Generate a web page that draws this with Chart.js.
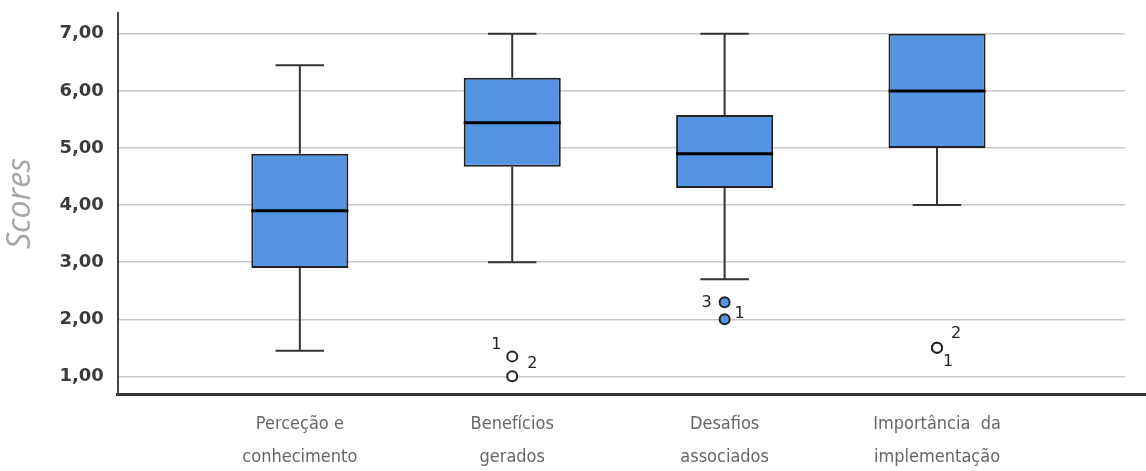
<!DOCTYPE html>
<html>
<head>
<meta charset="utf-8">
<script src="https://cdn.jsdelivr.net/npm/chart.js@4.4.1/dist/chart.umd.min.js"></script>
<style>
  html, body { margin: 0; padding: 0; background: #fff; overflow: hidden; }
  #wrap { width: 1146px; height: 499px; margin-top: -12px; position: relative; }
</style>
</head>
<body>
<div id="wrap"><canvas id="boxChart"></canvas></div>
<script>
// categories (two-line labels as in the original)
const categories = [
  ['Perceção e', 'conhecimento'],
  ['Benefícios', 'gerados'],
  ['Desafios', 'associados'],
  ['Importância  da', 'implementação']
];

// box plot summary values per category
const whiskerLow = [1.45, 3.0, 2.7, 4.0];
const q1 = [2.9, 4.67, 4.3, 5.0];
const median = [3.9, 5.44, 4.9, 6.0];
const q3 = [4.9, 6.23, 5.58, 7.0];
const whiskerHigh = [6.45, 7.0, 7.0, 7.0];

// outliers: category index, value, case number
const outlierCat = [1, 1, 2, 2, 3, 3];
const outlierVal = [1.35, 1.0, 2.3, 2.0, 1.5, 1.5];
const outlierCase = ['1', '2', '3', '1', '2', '1'];

const yTicks = [1, 2, 3, 4, 5, 6, 7];

// where each case number sits next to its circle (px)
const caseLabelOffset = [[-16, -12], [20, -13], [-18, 1], [15, -5], [19, -14], [11, 14]];

const BLUE = '#5494e3';
const DARK = '#222';

const boxPlotPlugin = {
  id: 'boxPlot',
  afterDatasetsDraw(chart) {
    const { ctx, scales: { x, y } } = chart;
    const bars = chart.getDatasetMeta(0).data;
    ctx.save();
    // whiskers + caps
    ctx.strokeStyle = '#333';
    ctx.lineWidth = 2;
    categories.forEach((c, i) => {
      const cx = x.getPixelForValue(i);
      const half = bars[i].width / 2;
      const capHalf = half / 2;
      const segs = [[q3[i], whiskerHigh[i]], [q1[i], whiskerLow[i]]];
      segs.forEach(([from, to]) => {
        if (from === to) return;
        ctx.beginPath();
        ctx.moveTo(cx, y.getPixelForValue(from));
        ctx.lineTo(cx, y.getPixelForValue(to));
        ctx.moveTo(cx - capHalf, y.getPixelForValue(to));
        ctx.lineTo(cx + capHalf, y.getPixelForValue(to));
        ctx.stroke();
      });
      // median
      ctx.save();
      ctx.strokeStyle = '#000';
      ctx.lineWidth = 3;
      ctx.beginPath();
      ctx.moveTo(cx - half, y.getPixelForValue(median[i]));
      ctx.lineTo(cx + half, y.getPixelForValue(median[i]));
      ctx.stroke();
      ctx.restore();
    });
    // case numbers
    ctx.fillStyle = '#222';
    ctx.font = '16px "DejaVu Sans"';
    ctx.textAlign = 'center';
    ctx.textBaseline = 'middle';
    outlierCase.forEach((t, i) => {
      const px = x.getPixelForValue(outlierCat[i]) + caseLabelOffset[i][0];
      const py = y.getPixelForValue(outlierVal[i]) + caseLabelOffset[i][1];
      ctx.fillText(t, px, py);
    });
    ctx.restore();
  },
  afterDraw(chart) {
    // bottom axis line runs on to the right edge, same line as the x border
    const { ctx, chartArea } = chart;
    const xs = chart.scales.x;
    const yLine = Math.round(xs.top) + 0.5;
    ctx.save();
    ctx.strokeStyle = '#333';
    ctx.lineWidth = 3;
    ctx.beginPath();
    ctx.moveTo(chartArea.right - 4, yLine);
    ctx.lineTo(chart.width, yLine);
    ctx.stroke();
    ctx.restore();
  }
};

new Chart(document.getElementById('boxChart'), {
  type: 'bar',
  data: {
    datasets: [
      {
        label: 'box',
        data: categories.map((c, i) => ({ x: i, y: [q1[i], q3[i]] })),
        backgroundColor: BLUE,
        borderColor: DARK,
        borderWidth: 2,
        borderSkipped: false,
        barPercentage: 0.457,
        categoryPercentage: 1
      },
      {
        type: 'scatter',
        label: 'outliers',
        data: outlierCat.map((c, i) => ({ x: c, y: outlierVal[i] })),
        pointRadius: 5,
        pointBorderWidth: 2,
        pointBorderColor: DARK,
        pointBackgroundColor: ctx => outlierCat[ctx.dataIndex] === 2 ? BLUE : '#fff'
      }
    ]
  },
  options: {
    responsive: true,
    maintainAspectRatio: false,
    animation: false,
    layout: { padding: { top: 2, right: 21, left: 0, bottom: 0 } },
    plugins: { legend: { display: false }, tooltip: { enabled: false } },
    scales: {
      x: {
        type: 'linear',
        offset: false,
        min: -0.857,
        max: 3.885,
        afterBuildTicks: s => { s.ticks = categories.map((c, i) => ({ value: i })); },
        ticks: {
          autoSkip: false,
          maxRotation: 0,
          padding: 13,
          color: '#666',
          font: { family: '"Liberation Sans Narrow", "DejaVu Sans Condensed", Roboto', size: 18, lineHeight: 1.85 },
          callback: v => categories[v]
        },
        grid: { display: false, drawTicks: false, offset: false },
        border: { color: '#333', width: 3 }
      },
      y: {
        min: 0.684,
        max: 7.368,
        afterBuildTicks: s => { s.ticks = yTicks.map(v => ({ value: v })); },
        ticks: {
          padding: 14,
          color: '#3c3c3c',
          font: { family: '"DejaVu Sans"', size: 18, weight: 'bold' },
          callback: v => v.toFixed(2).replace('.', ',')
        },
        grid: { color: '#c8c8c8', lineWidth: 1.5, drawTicks: false },
        border: { color: '#444', width: 2 },
        title: {
          display: true,
          text: 'Scores',
          color: '#a6a6a6',
          font: { family: '"Open Sans"', size: 32, style: 'italic' },
          padding: { top: 2, bottom: 5 }
        }
      }
    }
  },
  plugins: [boxPlotPlugin]
});
</script>
</body>
</html>
